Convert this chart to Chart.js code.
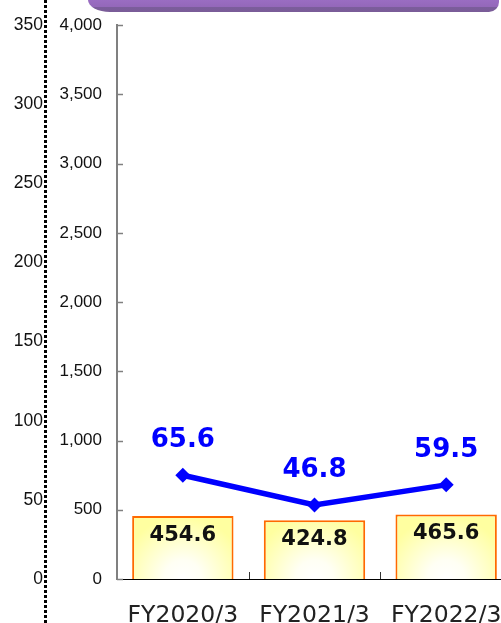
<!DOCTYPE html>
<html>
<head>
  <meta charset="UTF-8">
  <title>FY chart</title>
  <script src="https://cdn.jsdelivr.net/npm/chart.js"></script>
  <style>
    body {
      margin: 0;
      width: 501px;
      height: 623px;
      overflow: hidden;
      background: #fff;
      position: relative;
    }

    #banner {
      position: absolute;
      left: 88px;
      top: 0;
      width: 411px;
      height: 12px;
      background: linear-gradient(#9a6dc2 0, #9468ba 55%, #7b5d9b 58%, #7a5c98 100%);
      border-radius: 0 0 10px 22px / 0 0 10px 12px;
      z-index: 2;
    }

    #chart {
      position: absolute;
      left: 0;
      top: 0;
    }
  </style>
</head>
<body>
  <div id="banner"></div>
  <canvas id="chart" width="512" height="623"></canvas>

  <script>
    const categories = ["FY2020/3", "FY2021/3", "FY2022/3"];
    const salesValues = [454.6, 424.8, 465.6];   // bars, inner scale 0-4,000
    const profitValues = [65.6, 46.8, 59.5];     // line, outer scale 0-350
    const salesTicks = [0, 500, 1000, 1500, 2000, 2500, 3000, 3500, 4000];
    const profitTicks = [0, 50, 100, 150, 200, 250, 300, 350];

    const barShare = 0.77;

    // whitish glow at the bottom centre of each bar, yellow towards the edges
    function barFill(ctx) {
      const chart = ctx.chart;
      const x = chart.scales.x;
      const y = chart.scales.ySales;
      if (!x || !y || !chart.chartArea) return "#ffffc0";
      const c = x.getPixelForValue(ctx.dataIndex);
      const w = (x.getPixelForValue(1) - x.getPixelForValue(0)) * barShare;
      const base = y.getPixelForValue(0);
      const g = chart.ctx.createRadialGradient(c, base, 0, c, base, w * 0.62);
      g.addColorStop(0, "#ffffff");
      g.addColorStop(0.3, "#fffff4");
      g.addColorStop(1, "#ffffa0");
      return g;
    }

    const decor = {
      id: "decor",
      afterDraw(chart) {
        const c = chart.ctx;
        const area = chart.chartArea;
        const outer = chart.scales.yProfit;
        const inner = chart.scales.ySales;
        const x = chart.scales.x;

        // dotted line beside the outer scale, full height
        c.save();
        c.strokeStyle = "#000";
        c.lineWidth = 3;
        c.setLineDash([3, 2]);
        c.beginPath();
        c.moveTo(outer.right - 4.5, 0);
        c.lineTo(outer.right - 4.5, chart.height);
        c.stroke();
        c.restore();

        // inward tick marks on the sales axis
        c.save();
        c.strokeStyle = "#808080";
        c.lineWidth = 1.5;
        salesTicks.forEach(v => {
          const y = Math.round(inner.getPixelForValue(v)) + 0.5;
          c.beginPath();
          c.moveTo(area.left, y);
          c.lineTo(area.left + 6, y);
          c.stroke();
        });
        c.restore();

        // small upward ticks between categories
        c.save();
        c.strokeStyle = "#333";
        c.lineWidth = 1;
        for (let i = 0; i < categories.length - 1; i++) {
          const bx = Math.round((x.getPixelForValue(i) + x.getPixelForValue(i + 1)) / 2) + 0.5;
          c.beginPath();
          c.moveTo(bx, area.bottom);
          c.lineTo(bx, area.bottom - 7);
          c.stroke();
        }
        c.restore();
      },
      afterDatasetsDraw(chart) {
        const c = chart.ctx;
        c.save();
        c.textAlign = "center";
        c.textBaseline = "middle";

        const bars = chart.getDatasetMeta(0).data;
        c.font = "bold 21px 'DejaVu Sans'";
        c.fillStyle = "#111";
        bars.forEach((el, i) => {
          c.fillText(salesValues[i].toFixed(1), el.x, el.y + 19);
        });

        const pts = chart.getDatasetMeta(1).data;
        c.font = "bold 26px 'DejaVu Sans'";
        c.fillStyle = "#0000ff";
        pts.forEach((el, i) => {
          c.fillText(profitValues[i].toFixed(1), el.x, el.y - 35);
        });
        c.restore();
      }
    };

    new Chart(document.getElementById("chart"), {
      data: {
        labels: categories,
        datasets: [{
          type: "bar",
          data: salesValues,
          yAxisID: "ySales",
          backgroundColor: barFill,
          borderColor: "#ff6a00",
          borderWidth: 2,
          barPercentage: 1,
          categoryPercentage: barShare,
          order: 2
        }, {
          type: "line",
          data: profitValues,
          yAxisID: "yProfit",
          borderColor: "#0000ff",
          backgroundColor: "#0000ff",
          borderWidth: 5.5,
          pointStyle: "rectRot",
          pointRadius: 7.5,
          pointBorderWidth: 0,
          tension: 0,
          order: 1
        }]
      },
      options: {
        responsive: false,
        animation: false,
        layout: { autoPadding: false, padding: { top: 22, right: 0, bottom: 0, left: 0 } },
        plugins: {
          legend: { display: false },
          tooltip: { enabled: false }
        },
        scales: {
          x: {
            grid: { display: false, drawTicks: false },
            border: { display: true, color: "#000", width: 1 },
            ticks: {
              color: "#222",
              padding: 23,
              maxRotation: 0,
              font: { family: "'DejaVu Sans'", size: 23.5 }
            },
            afterFit(s) {
              s.height = 44;
              s.paddingLeft = 0;
              s.paddingRight = 0;
            }
          },
          yProfit: {
            position: "left",
            weight: 10,
            min: 0,
            max: 350,
            grid: { display: false, drawTicks: false },
            border: { display: false },
            ticks: {
              stepSize: 50,
              padding: 7,
              color: "#111",
              font: { family: "'Liberation Sans'", size: 17.5 }
            },
            afterFit(s) { s.width = 50; }
          },
          ySales: {
            position: "left",
            weight: 1,
            min: 0,
            max: 4000,
            grid: { display: false, drawTicks: false },
            border: { display: true, color: "#808080", width: 2 },
            ticks: {
              stepSize: 500,
              padding: 15,
              color: "#111",
              font: { family: "'Liberation Sans'", size: 17 },
              callback: v => v.toLocaleString("en-US")
            },
            afterFit(s) { s.width = 67; }
          }
        }
      },
      plugins: [decor]
    });
  </script>
</body>
</html>
